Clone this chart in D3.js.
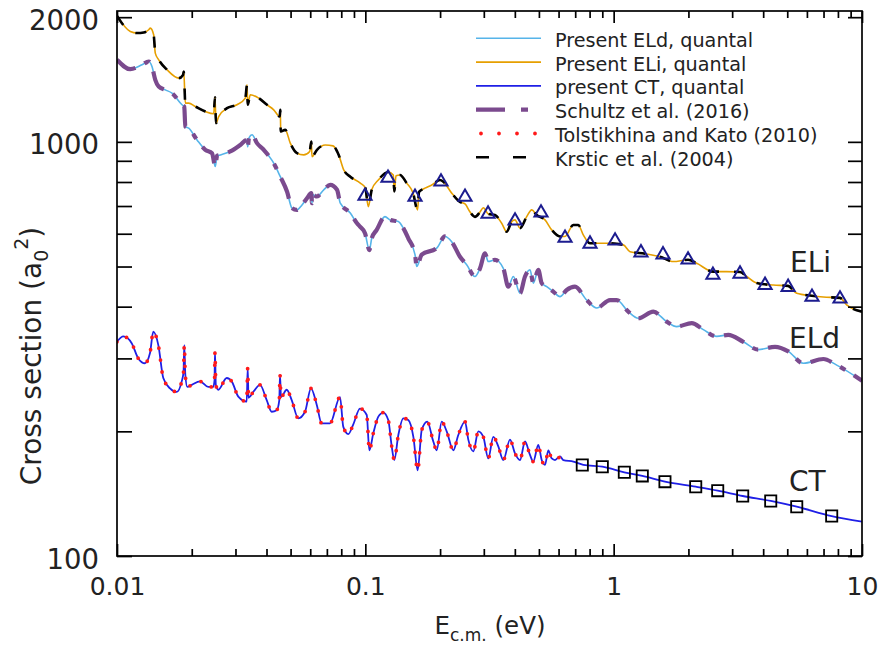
<!DOCTYPE html>
<html>
<head>
<meta charset="utf-8">
<script src="https://cdn.jsdelivr.net/npm/d3@7"></script>
<style>
  body { margin: 0; background: #fff; }
  svg { display: block; font-family: "DejaVu Sans", sans-serif; }
</style>
</head>
<body>
<svg id="chart" width="887" height="646"></svg>
<script>
// ---- data (E in eV, cross section in a0^2) ----
var ctE = [0.0100, 0.01060, 0.01146, 0.01218, 0.01296, 0.01358, 0.01400, 0.01467, 0.01536, 0.01635,
  0.01740, 0.01822, 0.01853, 0.01866, 0.01884, 0.01919, 0.0200, 0.02159, 0.02332, 0.02442,
  0.0247, 0.02481, 0.0250, 0.02558, 0.02766, 0.02897, 0.03080, 0.03329, 0.03360, 0.03385,
  0.03539, 0.03765, 0.04007, 0.04198, 0.04396, 0.04504, 0.04532, 0.04575, 0.04824, 0.05052,
  0.05371, 0.05716, 0.06042, 0.06371, 0.06673, 0.07206, 0.07907, 0.08153, 0.08539, 0.08944,
  0.09517, 0.1013, 0.1038, 0.1077, 0.1128, 0.1181, 0.1237, 0.1277, 0.1308, 0.1358,
  0.1422, 0.1489, 0.1561, 0.1625, 0.1687, 0.1776, 0.1878, 0.1939, 0.2030, 0.2126,
  0.2261, 0.2368, 0.2520, 0.2598, 0.2722, 0.2851, 0.2986, 0.3127, 0.3275, 0.3431,
  0.3594, 0.3824, 0.4006, 0.4196, 0.4395, 0.4603, 0.4746, 0.4972, 0.5131, 0.5290,
  0.5456, 0.5630, 0.5805, 0.6080, 0.6269, 0.6878, 0.7545, 0.90, 1.104, 1.304,
  1.609, 2.14, 2.624, 3.308, 4.29, 5.46, 7.55, 10];
var ctS = [329, 339, 326.5, 300, 292, 309, 348, 323, 269, 254,
  249, 264, 278, 323, 274, 256, 259, 264, 256, 256,
  266, 311, 259, 252, 269, 264, 242.5, 236, 284, 241,
  249, 259, 238, 223, 225, 238, 274, 242, 252, 238,
  215, 223, 254, 232, 209, 209, 242, 205, 197, 208,
  227, 219, 180, 198, 217, 222, 213, 184, 170.5, 196,
  215, 213, 194, 161, 201.5, 211, 189, 180, 211, 200,
  180, 196, 211, 191, 179, 200, 194, 172, 194, 184,
  170.5, 191, 177, 170.5, 189, 175.4, 169, 185.4, 170.5, 166,
  180, 172, 170.5, 174, 170.5, 169, 166, 164.3, 159.3, 156.1,
  151.2, 147.0, 143.8, 139.6, 135.8, 131.5, 124.9, 121.0];

var eliE = [0.0100, 0.01131, 0.01204, 0.01281, 0.01342, 0.01362, 0.01405, 0.01426, 0.01472, 0.01590,
  0.01772, 0.01845, 0.01857, 0.01884, 0.01944, 0.02067, 0.02268, 0.02451, 0.02481, 0.02504,
  0.02567, 0.02773, 0.03042, 0.03286, 0.03339, 0.03360, 0.03442, 0.03721, 0.04018, 0.04276,
  0.04521, 0.04546, 0.04563, 0.04760, 0.04986, 0.05306, 0.05647, 0.05970, 0.06059, 0.06098,
  0.06388, 0.06900, 0.07410, 0.07812, 0.08182, 0.08698, 0.09544, 0.1000, 0.1028, 0.1061,
  0.1128, 0.1237, 0.1296, 0.1308, 0.1329, 0.1379, 0.1467, 0.1556, 0.1623, 0.1645,
  0.1739, 0.1851, 0.1998, 0.2061, 0.2227, 0.2405, 0.2520, 0.2640, 0.2764, 0.2896,
  0.2986, 0.3127, 0.3327, 0.3540, 0.3708, 0.3886, 0.4006, 0.4196, 0.4465, 0.4677,
  0.4898, 0.5290, 0.5630, 0.6080, 0.6368, 0.6878, 0.7205, 0.7545, 0.803, 0.8810,
  0.9667, 1.0935, 1.1635, 1.337, 1.537, 1.739, 1.993, 2.160, 2.519, 2.852,
  3.227, 3.433, 3.767, 4.395, 5.035, 5.458, 6.274, 6.985, 8.155, 8.677, 10];
var eliS = [2015, 1847, 1831, 1837, 1865, 1882, 1814, 1638, 1578, 1493,
  1425, 1451, 1479, 1240, 1240, 1217, 1184, 1169, 1282, 1110,
  1151, 1206, 1229, 1275, 1373, 1229, 1299, 1275, 1229, 1195,
  1151, 1195, 1059, 1069, 993, 939, 930, 948, 1002, 921,
  957, 983, 978, 930, 856, 824, 795, 774, 697, 766,
  809, 846, 832, 759, 828, 832, 795, 753, 685, 757,
  773, 787, 809, 801, 752, 716, 708, 677, 659, 677,
  693, 670, 666, 636, 607, 642, 648, 619, 660, 685,
  666, 648, 613, 591, 591, 630, 630, 596, 569, 569,
  569, 564, 543, 537, 528, 514, 519, 509, 486, 486,
  485, 473, 456, 451, 449, 431, 425, 422, 420, 404, 389];

var eldE = [0.0100, 0.01131, 0.01261, 0.01342, 0.01383, 0.01426, 0.01472, 0.01565, 0.01665, 0.01827,
  0.01866, 0.01884, 0.01944, 0.02100, 0.02268, 0.02413, 0.02488, 0.02528, 0.02606, 0.02858,
  0.03137, 0.03339, 0.03360, 0.03401, 0.03497, 0.03662, 0.03896, 0.04276, 0.04546, 0.04837,
  0.05066, 0.05306, 0.05559, 0.05822, 0.06059, 0.06098, 0.06155, 0.06388, 0.06798, 0.07226,
  0.07690, 0.07929, 0.08698, 0.09258, 0.09517, 0.0997, 0.1038, 0.1061, 0.1111, 0.1200,
  0.1257, 0.1358, 0.1422, 0.1489, 0.1585, 0.1610, 0.1687, 0.1939, 0.2093, 0.2227,
  0.2405, 0.2559, 0.2764, 0.2896, 0.3033, 0.3127, 0.3327, 0.3594, 0.3764, 0.3944,
  0.4196, 0.4395, 0.4603, 0.4746, 0.4972, 0.5131, 0.5376, 0.5714, 0.6080, 0.6470,
  0.6987, 0.7788, 0.8542, 0.9667, 1.029, 1.1455, 1.257, 1.444, 1.635, 1.794,
  2.062, 2.296, 2.600, 2.895, 3.327, 3.823, 4.464, 5.050, 5.803, 6.985, 7.910, 10];
var eldS = [1578, 1498, 1535, 1563, 1520, 1412, 1360, 1335, 1311, 1229,
  1215, 1089, 1079, 1011, 957, 939, 872, 925, 930, 948,
  983, 1011, 973, 1023, 1040, 993, 957, 888, 824, 759,
  692, 685, 704, 731, 752, 711, 745, 738, 766, 787,
  766, 711, 673, 636, 624, 602, 548, 585, 613, 660,
  648, 642, 619, 585, 534, 500, 534, 554, 591, 574,
  528, 505, 473, 495, 538, 514, 519, 495, 447, 473,
  431, 473, 491, 456, 491, 456, 447, 435, 423, 439,
  447, 415, 397, 415, 415, 389, 375, 389, 368, 358,
  365, 352, 339, 342, 329, 315, 320, 312, 292, 299, 289, 265];

// open triangles on the ELi curve, open squares on the CT curve
var triE = [0.0997, 0.1234, 0.1585, 0.2017, 0.252, 0.312, 0.4007, 0.5098, 0.637, 0.803,
  1.013, 1.288, 1.58, 1.993, 2.51, 3.227, 4.07, 5.04, 6.29, 8.155];
var triS = [740, 818, 736, 801, 736, 670, 645, 674, 586, 567,
  577, 540, 534, 519, 477, 480, 451, 446, 422, 418];
var sqE = [0.7476, 0.90, 1.104, 1.304, 1.609, 2.14, 2.624, 3.308, 4.29, 5.46, 7.55];
var sqS = [165.9, 164.3, 159.3, 156.1, 151.2, 147.0, 143.8, 139.6, 135.8, 131.5, 124.9];

var xTickValues = [0.01, 0.1, 1, 10];
var xTickLabels = ["0.01", "0.1", "1", "10"];
var yTickValues = [100, 200, 300, 400, 500, 600, 700, 800, 900, 1000, 2000];
var yTickLabels = {100: "100", 1000: "1000", 2000: "2000"};

var legendNames = ["Present ELd, quantal", "Present ELi, quantal", "present CT, quantal",
  "Schultz et al. (2016)", "Tolstikhina and Kato (2010)", "Krstic et al. (2004)"];

// ---- layout ----
var plot = {left: 117, right: 862, top: 11, bottom: 556};
var colors = {eld: "#56b4e9", eli: "#e69f00", ct: "#1f1fe6", schultz: "#7b4a8e",
  tolst: "#ff1a1a", krstic: "#000000", tri: "#1c1c8f"};

var svg = d3.select("#chart");

var x = d3.scaleLog().domain([0.01, 10]).range([plot.left, plot.right]);
var y = d3.scaleLog().domain([100, 2070]).range([plot.bottom, plot.top]);

svg.append("defs").append("clipPath").attr("id", "clip")
    .append("rect")
    .attr("x", plot.left).attr("y", plot.top)
    .attr("width", plot.right - plot.left)
    .attr("height", plot.bottom - plot.top);

var line = d3.line()
    .x(function(d) { return x(d[0]); })
    .y(function(d) { return y(d[1]); })
    .curve(d3.curveMonotoneX);

var curves = svg.append("g").attr("clip-path", "url(#clip)");

function drawCurve(data, color, w, dash, cap) {
  curves.append("path")
      .datum(data)
      .attr("d", line)
      .attr("fill", "none")
      .attr("stroke", color)
      .attr("stroke-width", w)
      .attr("stroke-dasharray", dash || null)
      .attr("stroke-linecap", cap || "butt")
      .attr("stroke-linejoin", "round");
}

var eld = d3.zip(eldE, eldS);
var eli = d3.zip(eliE, eliS);
var ct = d3.zip(ctE, ctS);
var tolst = ct.filter(function(d) { return d[0] <= 0.62; });

drawCurve(eld, colors.eld, 1.6);
drawCurve(eld, colors.schultz, 4.2, "22,10,6,10");      // Schultz et al. overlaps ELd
drawCurve(eli, colors.eli, 1.6);
drawCurve(eli, colors.krstic, 2.6, "11,15");           // Krstic et al. overlaps ELi
drawCurve(ct, colors.ct, 1.8);
drawCurve(tolst, colors.tolst, 3.8, "0,12", "round");  // Tolstikhina and Kato

curves.selectAll("path.tri")
    .data(d3.zip(triE, triS))
    .enter().append("path")
        .attr("class", "tri")
        .attr("transform", function(d) { return `translate(${x(d[0])}, ${y(d[1])})`; })
        .attr("d", d3.symbol().type(d3.symbolTriangle).size(75))
        .attr("fill", "none")
        .attr("stroke", colors.tri)
        .attr("stroke-width", 2);

curves.selectAll("path.sq")
    .data(d3.zip(sqE, sqS))
    .enter().append("path")
        .attr("class", "sq")
        .attr("transform", function(d) { return `translate(${x(d[0])}, ${y(d[1])})`; })
        .attr("d", d3.symbol().type(d3.symbolSquare).size(125))
        .attr("fill", "none")
        .attr("stroke", "#000")
        .attr("stroke-width", 1.8);

// ---- axes ----
var xMinor = [];
[0.01, 0.1, 1].forEach(function(dec) {
  for (var k = 2; k <= 9; k++) xMinor.push(dec * k);
});

function styleAxis(g) {
  g.select(".domain").remove();
  g.selectAll(".tick line").attr("stroke", "#000").attr("stroke-width", 1.7);
}

svg.append("g")
    .attr("transform", `translate(0, ${plot.bottom})`)
    .call(d3.axisBottom(x).tickValues(xTickValues).tickSize(-12).tickPadding(21)
        .tickFormat(function(d, i) { return xTickLabels[i]; }))
    .call(styleAxis)
    .selectAll("text")
        .attr("font-size", 25).attr("font-family", "DejaVu Sans").attr("fill", "#222");
svg.append("g")
    .attr("transform", `translate(0, ${plot.bottom})`)
    .call(d3.axisBottom(x).tickValues(xMinor).tickSize(-7).tickFormat(""))
    .call(styleAxis);
svg.append("g")
    .attr("transform", `translate(0, ${plot.top})`)
    .call(d3.axisTop(x).tickValues(xTickValues).tickSize(-12).tickFormat(""))
    .call(styleAxis);
svg.append("g")
    .attr("transform", `translate(0, ${plot.top})`)
    .call(d3.axisTop(x).tickValues(xMinor).tickSize(-7).tickFormat(""))
    .call(styleAxis);

svg.append("g")
    .attr("transform", `translate(${plot.left}, 0)`)
    .call(d3.axisLeft(y).tickValues(yTickValues).tickSize(-15).tickPadding(18)
        .tickFormat(function(d) { return yTickLabels[d] || ""; }))
    .call(styleAxis)
    .selectAll("text")
        .attr("font-size", 27.5).attr("font-family", "DejaVu Sans").attr("fill", "#222")
        .attr("dy", "0.44em");
svg.append("g")
    .attr("transform", `translate(${plot.right}, 0)`)
    .call(d3.axisRight(y).tickValues(yTickValues).tickSize(-14).tickFormat(""))
    .call(styleAxis);

svg.append("rect")
    .attr("x", plot.left).attr("y", plot.top)
    .attr("width", plot.right - plot.left)
    .attr("height", plot.bottom - plot.top)
    .attr("fill", "none")
    .attr("stroke", "#000")
    .attr("stroke-width", 1.7);

// ---- axis titles ----
var xt = svg.append("text")
    .attr("x", 490).attr("y", 634)
    .attr("text-anchor", "middle")
    .attr("font-size", 24.5).attr("fill", "#222");
xt.append("tspan").text("E");
xt.append("tspan").attr("font-size", 17).attr("dy", 7).text("c.m.");
xt.append("tspan").attr("dy", -7).text(" (eV)");

var yt = svg.append("text")
    .attr("transform", "translate(41, 356) rotate(-90)")
    .attr("text-anchor", "middle")
    .attr("font-size", 28).attr("fill", "#222");
yt.append("tspan").text("Cross section (a");
yt.append("tspan").attr("font-size", 19).attr("dy", 7).text("0");
yt.append("tspan").attr("font-size", 19).attr("dy", -20).text("2");
yt.append("tspan").attr("dy", 13).text(")");

// ---- curve labels ----
[["ELi", 790, 272], ["ELd", 789, 348], ["CT", 789, 491]].forEach(function(l) {
  svg.append("text")
      .attr("x", l[1]).attr("y", l[2])
      .attr("font-size", 28).attr("fill", "#222")
      .text(l[0]);
});

// ---- legend ----
var legendStyles = [
  {color: colors.eld, w: 1.6},
  {color: colors.eli, w: 1.6},
  {color: colors.ct, w: 1.8},
  {color: colors.schultz, w: 4.2, dash: "29,16,7,40"},
  {color: colors.tolst, w: 3.8, dash: "0,18", cap: "round", x1: 481},
  {color: colors.krstic, w: 2.6, dash: "13,24"}
];
var legend = svg.append("g");
legendNames.forEach(function(name, i) {
  var ly = 38.3 + i * 23.8;
  var s = legendStyles[i];
  legend.append("line")
      .attr("x1", s.x1 || 476).attr("x2", 541)
      .attr("y1", ly).attr("y2", ly)
      .attr("stroke", s.color)
      .attr("stroke-width", s.w)
      .attr("stroke-dasharray", s.dash || null)
      .attr("stroke-linecap", s.cap || "butt");
  legend.append("text")
      .attr("x", 555).attr("y", ly + 8.4)
      .attr("font-size", 19.2).attr("fill", "#222")
      .text(name);
});
</script>
</body>
</html>
